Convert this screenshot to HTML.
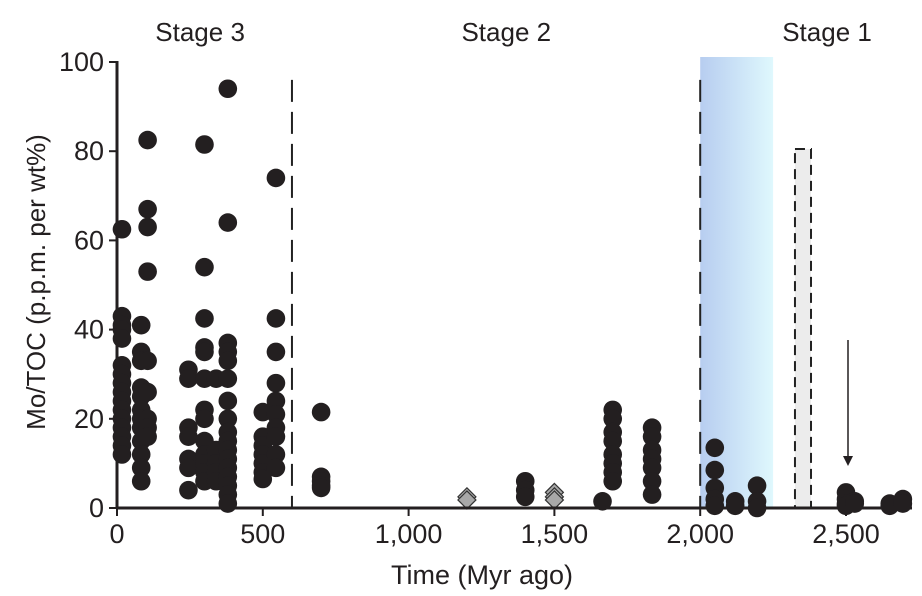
<!DOCTYPE html>
<html><head><meta charset="utf-8"><style>
body{margin:0;background:#fff;}
svg{display:block;font-family:"Liberation Sans",Arial,sans-serif;}
</style></head><body>
<svg id="chart" width="922" height="596" viewBox="0 0 922 596">
<defs>
<linearGradient id="bg" x1="0" x2="1" y1="0" y2="0">
<stop offset="0" stop-color="#b7cdf0"/><stop offset="1" stop-color="#dff8fd"/>
</linearGradient>
</defs>
<g id="bands"></g>
<g id="dots"></g>
<g id="axes"></g>
</svg>
<script>
const dotTimes=[17,83,105,245,300,340,380,500,545,700,1400,1665,1700,1835,2050,2120,2195,2500,2530,2650,2695];
const dotValues=[
[62.5,43,41,40,38,32,30,28,26,24,22,20,18,16,14,12],
[41,35,33,27,25,22,20,18,15,12,9,6],
[82.5,67,63,53,33,26,20,18,16],
[31,29,18,16,11,9,4],
[81.5,54,42.5,36,35,29,22,20,15,12,10,8,6],
[29,13,10,8,6],
[94,64,37,35,33,29,24,20,17,15,13,11,9,7,5,3,1],
[21.5,16,14,12,10,8,6.5],
[74,42.5,35,28,24,21,18,16,12,9],
[21.5,7,6,5,4.5],
[6,4,2.5],
[1.5],
[22,20,17,15,12,10,8,6],
[18,16,13,11,9,6,3],
[13.5,8.5,4.5,2,0.5],
[1.5,0.5],
[5,1.5,0],
[3.5,2,1,0.5],
[1.5,1],
[0.5,1],
[2,1]];
const diamondTimes=[1200,1200,1500,1500,1500];
const diamondValues=[2.5,1.8,3.5,2.5,1.8];
const xTicks=[0,500,1000,1500,2000,2500];
const xTickLabels=["0","500","1,000","1,500","2,000","2,500"];
const yTicks=[0,20,40,60,80,100];
const stageLabels=["Stage 3","Stage 2","Stage 1"];
const stageTimes=[285,1335,2435];

const NS="http://www.w3.org/2000/svg";
const X=t=>117+t*(846-117)/2500;
const Y=v=>508-v*4.46;
function mk(tag,attrs,parent){const e=document.createElementNS(NS,tag);for(const k in attrs)e.setAttribute(k,attrs[k]);parent.appendChild(e);return e;}
const bands=document.getElementById('bands'),dots=document.getElementById('dots'),axes=document.getElementById('axes');

let r=mk('rect',{x:X(2000),y:Y(100)-5,width:X(2250)-X(2000),height:Y(0)-Y(100)+5,fill:'url(#bg)'},bands);


let g=mk('rect',{x:X(2325),y:Y(80.5),width:X(2380)-X(2325),height:Y(0)-Y(80.5),fill:'#ececec',stroke:'#222','stroke-width':2,'stroke-dasharray':'10,6'},bands);


[600,2000].forEach(t=>{
 const l=mk('line',{x1:X(t),x2:X(t),y1:Y(96),y2:Y(0),stroke:'#222','stroke-width':2,'stroke-dasharray':'22,10'},bands);
 
 
});

dotTimes.forEach((t,i)=>{dotValues[i].forEach(v=>{
 const c=mk('circle',{cx:X(t),cy:Y(v),r:9.3,fill:'#231f20'},dots);
 
 
});});
diamondTimes.forEach((t,i)=>{
 const cx=X(t),cy=Y(diamondValues[i]);
 const p=mk('polygon',{points:`${cx},${cy-9} ${cx+9},${cy} ${cx},${cy+9} ${cx-9},${cy}`,fill:'#a8a8a8',stroke:'#333','stroke-width':1.2},dots);
 
 
});

const ax=mk('line',{x1:117,x2:912,y1:508,y2:508,stroke:'#231f20','stroke-width':3},axes);


const ay=mk('line',{x1:117,x2:117,y1:61,y2:509,stroke:'#231f20','stroke-width':3},axes);


xTicks.forEach((t,i)=>{
 mk('line',{x1:X(t),x2:X(t),y1:508,y2:516,stroke:'#231f20','stroke-width':2},axes);
 const tx=mk('text',{x:X(t),y:543,'text-anchor':'middle','font-size':27,fill:'#231f20'},axes);
 tx.textContent=xTickLabels[i];
 
 
});
yTicks.forEach(v=>{
 mk('line',{x1:109,x2:117,y1:Y(v),y2:Y(v),stroke:'#231f20','stroke-width':2},axes);
 const tx=mk('text',{x:104,y:Y(v)+9,'text-anchor':'end','font-size':27,fill:'#231f20'},axes);
 tx.textContent=String(v);
 
 
});
stageLabels.forEach((s,i)=>{
 const tx=mk('text',{x:X(stageTimes[i]),y:41,'text-anchor':'middle','font-size':26,fill:'#231f20'},axes);
 tx.textContent=s;
 
 
});
const xt=mk('text',{x:482,y:584,'text-anchor':'middle','font-size':27,fill:'#231f20'},axes);
xt.textContent='Time (Myr ago)';


const yt=mk('text',{x:0,y:0,'text-anchor':'middle','font-size':26,fill:'#231f20',transform:'translate(45,282) rotate(-90)'},axes);
yt.textContent='Mo/TOC (p.p.m. per wt%)';


const ar=mk('line',{x1:848,x2:848,y1:340,y2:458,stroke:'#231f20','stroke-width':1.5},axes);


const ah=mk('polygon',{points:'843,456 853,456 848,466',fill:'#231f20'},axes);


</script>
</body></html>
